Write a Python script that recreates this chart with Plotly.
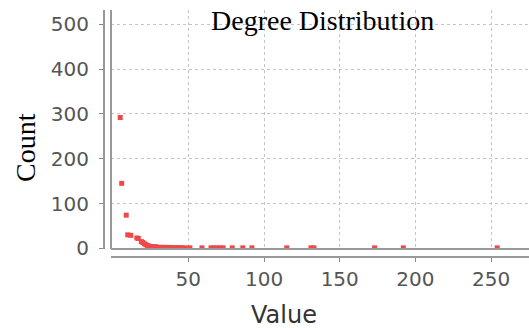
import plotly.graph_objects as go

degree = [5, 6, 9, 10, 12, 16, 17, 19, 20, 21, 22, 23, 24, 25, 26, 27, 28, 29, 30, 31, 32,
          33, 34, 35, 36, 37, 38, 39, 40, 41, 42, 43, 44, 45, 46, 48, 51, 59, 65, 67,
          69, 71, 73, 79, 86, 92, 115, 131, 133, 173, 192, 254]
count = [292, 145, 74, 30, 29, 23, 22, 15, 13, 10, 8, 6, 5, 4, 4, 3, 3, 3, 2, 2, 2,
         2, 2, 2, 1, 2, 1, 1, 1, 1, 1, 1, 1, 1, 1, 1, 1, 1, 1, 1,
         1, 1, 1, 1, 1, 1, 1, 1, 1, 1, 1, 1]
x_ticks = [50, 100, 150, 200, 250]
y_ticks = [0, 100, 200, 300, 400, 500]
title_text = "Degree Distribution"
x_title = "Value"
y_title = "Count"

W, H = 529, 328
L, T, B = 104, 10, 71
pw, ph = W - L, H - T - B

def px_x(p):
    return (p - L) / pw

def px_y(p):
    return (H - B - p) / ph

fig = go.Figure()
fig.add_trace(go.Scatter(
    x=degree, y=count, mode="markers",
    marker=dict(symbol="square", size=5, color="rgb(240,72,72)", line=dict(width=0)),
    hoverinfo="x+y", showlegend=False,
))

tick_font = dict(family="DejaVu Sans", size=20, color="#555555")
grid = dict(showgrid=True, gridcolor="#c4c4c4", gridwidth=1, griddash="3px,3px")

fig.update_layout(
    width=W, height=H,
    margin=dict(l=L, r=0, t=T, b=B, pad=0),
    paper_bgcolor="white", plot_bgcolor="white",
    xaxis=dict(
        domain=[px_x(111), 1], range=[-1.06, 275], anchor="free", position=0,
        tickvals=x_ticks, ticks="outside", ticklen=4, tickcolor="#888888", tickwidth=1,
        showline=True, linecolor="#999999", linewidth=2, zeroline=False,
        tickfont=tick_font, **grid,
    ),
    yaxis=dict(
        domain=[px_y(249), 1], range=[-1.56, 531.9], anchor="free", position=0,
        tickvals=y_ticks, ticks="outside", ticklen=4, tickcolor="#888888", tickwidth=1,
        showline=True, linecolor="#999999", linewidth=2, zeroline=False,
        tickfont=tick_font, ticklabelstandoff=6, **grid,
    ),
    shapes=[
        dict(type="line", xref="x domain", yref="y domain", x0=0, x1=0, y0=0, y1=1,
             line=dict(color="#999999", width=2)),
        dict(type="line", xref="x domain", yref="y domain", x0=0, x1=1, y0=0, y1=0,
             line=dict(color="#999999", width=2)),
    ],
    annotations=[
        dict(text=title_text, x=px_x(322), y=px_y(21), xref="paper", yref="paper",
             xanchor="center", yanchor="middle", showarrow=False,
             font=dict(family="Liberation Serif", size=28, color="black")),
        dict(text=y_title, x=px_x(25), y=px_y(148), xref="paper", yref="paper",
             xanchor="center", yanchor="middle", showarrow=False, textangle=-90,
             font=dict(family="Liberation Serif", size=28, color="black")),
        dict(text=x_title, x=px_x(284), y=px_y(315), xref="paper", yref="paper",
             xanchor="center", yanchor="middle", showarrow=False,
             font=dict(family="DejaVu Sans", size=24, color="#333333")),
    ],
)

fig.write_html("out.html")
